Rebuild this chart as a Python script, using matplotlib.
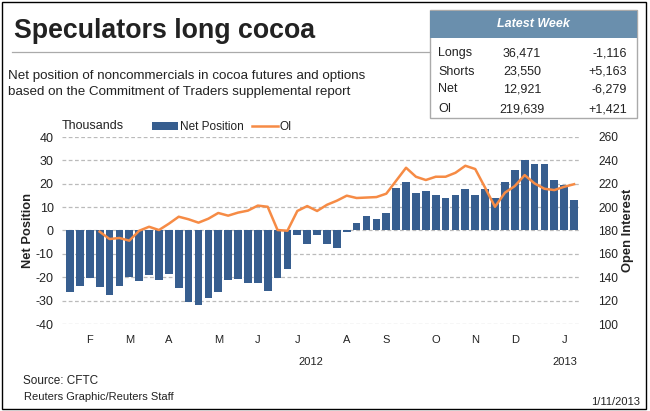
import numpy as np
import matplotlib
matplotlib.use("Agg")
import matplotlib.pyplot as plt
from matplotlib.patches import Rectangle, Patch
from matplotlib.lines import Line2D
import matplotlib.transforms as mtransforms

plt.rcParams['font.family'] = ['Liberation Sans', 'DejaVu Sans']

# ---------------- data ----------------
net_position = [-26.5, -23.9, -20.4, -24.3, -27.7, -23.9, -20.0, -21.7, -19.1, -21.3,
                -18.7, -24.7, -30.7, -32.0, -29.0, -26.4, -21.3, -20.9, -22.6, -22.6,
                -26.0, -20.4, -16.6, -2.0, -5.9, -2.0, -5.9, -7.6, -0.7, 3.4,
                6.0, 5.1, 7.7, 18.0, 20.6, 15.9, 16.7, 15.0, 13.7, 15.4,
                17.6, 15.4, 17.6, 14.1, 20.6, 25.7, 30.0, 28.3, 28.3, 21.4,
                19.3, 12.9]
open_interest = [np.nan, np.nan, np.nan, 179.0, 172.7, 173.6, 171.3, 179.8, 183.2, 180.4,
                 185.8, 191.8, 189.6, 186.7, 190.1, 195.0, 192.7, 195.3, 197.0, 201.3,
                 200.3, 180.4, 179.8, 196.7, 200.9, 196.7, 202.0, 205.5, 209.8, 207.8,
                 208.2, 208.6, 211.5, 222.6, 233.7, 226.0, 223.2, 226.0, 226.0, 229.4,
                 235.4, 232.6, 216.6, 200.3, 212.3, 218.0, 227.4, 220.3, 215.7, 214.6,
                 217.4, 219.6]
month_labels = ['F', 'M', 'A', 'M', 'J', 'J', 'A', 'S', 'O', 'N', 'D', 'J']
month_week = [2, 6, 10, 15, 19, 23, 28, 32, 37, 41, 45, 50]
year_labels = ['2012', '2013']
year_week = [24.4, 50.1]
left_ticks = [-40, -30, -20, -10, 0, 10, 20, 30, 40]
right_ticks = [100, 120, 140, 160, 180, 200, 220, 240, 260]
table_rows = ['Longs', 'Shorts', 'Net', 'OI']
table_values = ['36,471', '23,550', '12,921', '219,639']
table_changes = ['-1,116', '+5,163', '-6,279', '+1,421']

BAR = '#375E8F'
LINE = '#F68B45'
TXT = '#222222'
W, H = 650, 411

def fx(x):
    return x / W

def fy(y):
    return 1 - y / H

fig = plt.figure(figsize=(6.5, 4.11), dpi=100)

# outer frame
fig.add_artist(Rectangle((fx(2), fy(409)), fx(646) - fx(2), fy(2) - fy(409),
                         transform=fig.transFigure, fill=False, edgecolor='black', lw=1.0))

# axes
ax = fig.add_axes([fx(62), fy(324), fx(580) - fx(62), fy(137) - fy(324)])
x = np.arange(len(net_position))
ax.bar(x, net_position, width=0.78, color=BAR, zorder=2)
ax.set_xlim(-0.81, 51.6)
ax.set_ylim(-40, 40)
ax.set_yticks(left_ticks)
ax.set_yticklabels([str(t) for t in left_ticks])
ax.yaxis.grid(True, linestyle=(0, (3, 2)), color='#BBBBBB', lw=0.9, zorder=0)
ax.set_axisbelow(True)
for s in ax.spines.values():
    s.set_visible(False)
ax.tick_params(axis='y', length=0, pad=6, labelsize=9, labelcolor=TXT)
ax.set_xticks(month_week)
ax.set_xticklabels(month_labels)
ax.tick_params(axis='x', length=0, pad=8, labelsize=8, labelcolor=TXT)
ax.set_ylabel('Net Position', fontsize=9.3, fontweight='bold', labelpad=1, color=TXT)

ax2 = ax.twinx()
ax2.plot(x, open_interest, color=LINE, lw=1.8, zorder=3)
ax2.set_ylim(100, 260)
ax2.set_yticks(right_ticks)
ax2.set_yticklabels([str(t) for t in right_ticks])
for s in ax2.spines.values():
    s.set_visible(False)
ax2.tick_params(axis='y', length=0, pad=13, labelsize=8.6, labelcolor=TXT)
ax2.set_ylabel('Open Interest', fontsize=9.3, fontweight='bold', labelpad=3, color=TXT)

# year labels
trans = mtransforms.blended_transform_factory(ax.transData, fig.transFigure)
for lab, wk in zip(year_labels, year_week):
    fig.text(wk, fy(362), lab, transform=trans, fontsize=8, ha='center', va='center',
             color=TXT)

# legend
fig.text(fx(62), fy(126), 'Thousands', fontsize=9, va='center', ha='left', color=TXT)
handles = [Patch(facecolor=BAR, edgecolor='none'), Line2D([0], [0], color=LINE, lw=1.8)]
fig.legend(handles, ['Net Position', 'OI'], ncol=2, frameon=False, fontsize=8.5,
           loc='center left', bbox_to_anchor=(fx(152), fy(127)),
           handlelength=2.2, handleheight=0.6, handletextpad=0.15, columnspacing=0.7,
           borderaxespad=0, borderpad=0, labelcolor=TXT)

# title and subtitle
fig.text(fx(14), fy(31), 'Speculators long cocoa', fontsize=19.3, fontweight='bold',
         va='center', ha='left', color=TXT)
fig.add_artist(Line2D([fx(12), fx(430)], [fy(52), fy(52)], transform=fig.transFigure,
                      color='#AAAAAA', lw=0.9))
fig.text(fx(8), fy(76), 'Net position of noncommercials in cocoa futures and options',
         fontsize=9.6, va='center', ha='left', color=TXT)
fig.text(fx(8), fy(92), 'based on the Commitment of Traders supplemental report',
         fontsize=9.6, va='center', ha='left', color=TXT)

# latest week box
fig.add_artist(Rectangle((fx(430), fy(118)), fx(637) - fx(430), fy(10) - fy(118),
                         transform=fig.transFigure, facecolor='white', edgecolor='#AAAAAA',
                         lw=1.0))
fig.add_artist(Rectangle((fx(430), fy(38)), fx(637) - fx(430), fy(11) - fy(38),
                         transform=fig.transFigure, facecolor='#6A8FAD', edgecolor='none'))
fig.text(fx(533), fy(24), 'Latest Week', fontsize=9, fontweight='bold', style='italic',
         color='white', ha='center', va='center')
row_y = [53, 72, 89, 109]
for lab, val, chg, yy in zip(table_rows, table_values, table_changes, row_y):
    fig.text(fx(438), fy(yy), lab, fontsize=9, ha='left', va='center', color=TXT)
    fig.text(fx(522), fy(yy), val, fontsize=9, ha='center', va='center', color=TXT)
    fig.text(fx(627), fy(yy), chg, fontsize=9, ha='right', va='center', color=TXT)

# footer
fig.text(fx(23), fy(381), 'Source: CFTC', fontsize=8.5, ha='left', va='center', color=TXT)
fig.text(fx(24), fy(397), 'Reuters Graphic/Reuters Staff', fontsize=8, ha='left', va='center',
         color=TXT)
fig.text(fx(640), fy(402), '1/11/2013', fontsize=8, ha='right', va='center', color=TXT)

fig.savefig('out.png', dpi=100)
